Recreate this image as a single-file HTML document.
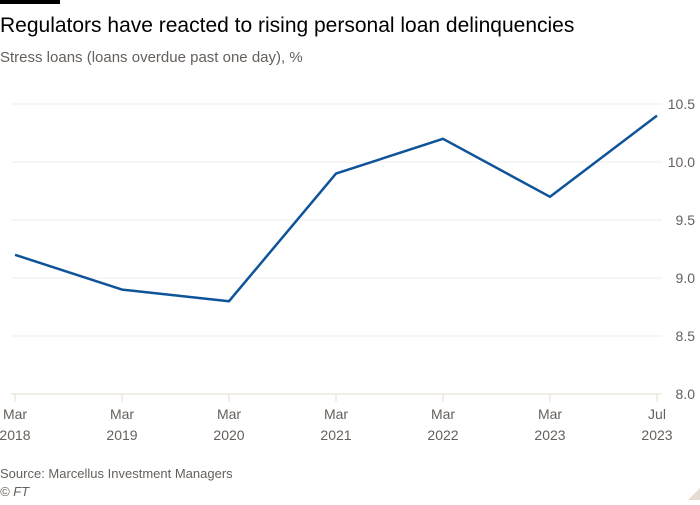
<!DOCTYPE html>
<html><head><meta charset="utf-8"><style>
body{margin:0;background:#fff;width:700px;height:500px;overflow:hidden;font-family:"Liberation Sans",sans-serif}
</style></head><body>
<svg width="700" height="500" xmlns="http://www.w3.org/2000/svg">
<rect x="0" y="0" width="60" height="4" fill="#000"/>
<text x="0" y="32" font-size="21" fill="#000">Regulators have reacted to rising personal loan delinquencies</text>
<text x="0" y="62" font-size="15" fill="#66605c">Stress loans (loans overdue past one day), %</text>
<g id="grid"></g><g id="xax"></g>
<path id="line" fill="none" stroke="#0f5499" stroke-width="2.5" stroke-linejoin="round"/>
<text x="0" y="478" font-size="13" fill="#66605c">Source: Marcellus Investment Managers</text>
<text x="0" y="496" font-size="13" fill="#66605c" font-style="italic">© FT</text>
<path d="M700 488 L700 500 L688 500Z" fill="#e6dcd2"/>
</svg>
<script>
const categories=["Mar|2018","Mar|2019","Mar|2020","Mar|2021","Mar|2022","Mar|2023","Jul|2023"];
const values=[9.2,8.9,8.8,9.9,10.2,9.7,10.4];
const yTicks=[8.0,8.5,9.0,9.5,10.0,10.5];
const NS="http://www.w3.org/2000/svg";
const x0=15,x1=657,yMin=8,yMax=10.5,py0=394,py1=104;
const X=i=>x0+i*(x1-x0)/(categories.length-1);
const Y=v=>py0-(v-yMin)/(yMax-yMin)*(py0-py1);
function mk(t,a,p){const e=document.createElementNS(NS,t);for(const k in a)e.setAttribute(k,a[k]);p.appendChild(e);return e;}
const g=document.getElementById('grid');
yTicks.forEach(v=>{
 const l=mk('line',{x1:11,x2:662,y1:Y(v),y2:Y(v),stroke:v===yMin?'#e6dcd2':'#f2ede8','stroke-width':1},g);
 
 
 const t=mk('text',{x:695,y:Y(v)+5,'font-size':14,fill:'#66605c','text-anchor':'end'},g);
 t.textContent=v.toFixed(1);
 
 
});
const xa=document.getElementById('xax');
categories.forEach((c,i)=>{
 const tk=mk('line',{x1:X(i),x2:X(i),y1:py0,y2:py0+8,stroke:'#e6dcd2'},xa);
 
 
 const [a,b]=c.split('|');
 const t=mk('text',{x:X(i),y:py0+25,'font-size':14,fill:'#66605c','text-anchor':'middle'},xa);
 t.textContent=a;
 
 
 const t2=mk('text',{x:X(i),y:py0+46,'font-size':14,fill:'#66605c','text-anchor':'middle'},xa);
 t2.textContent=b;
 
 
});
document.getElementById('line').setAttribute('d',values.map((v,i)=>(i?'L':'M')+X(i)+' '+Y(v)).join(' '));
</script>
</body></html>
